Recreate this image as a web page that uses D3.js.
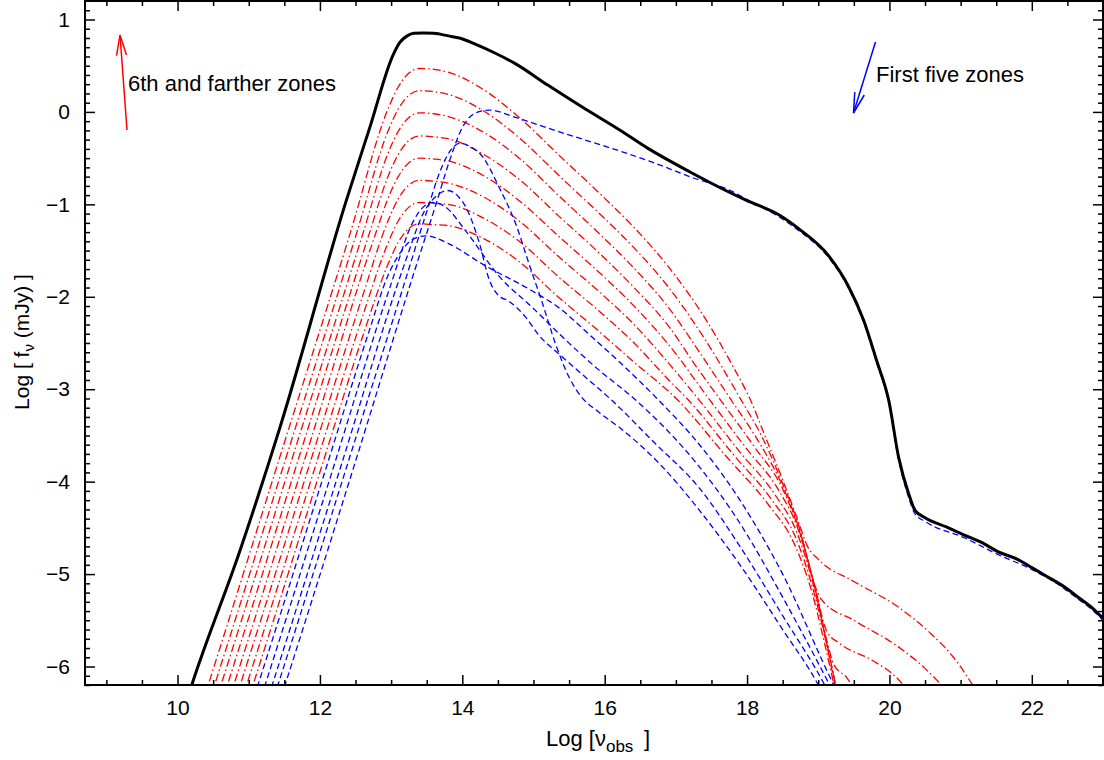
<!DOCTYPE html>
<html>
<head>
<meta charset="utf-8">
<script src="https://cdn.jsdelivr.net/npm/d3@7"></script>
<style>
  body { margin: 0; background: #fff; }
  text { font-family: "Liberation Sans", Arial, sans-serif; }
</style>
</head>
<body>
<script>
// ---- data: [log nu, log f] ----
var total = [[10.15,-6.32],[10.2,-6.2],[10.88,-4.74],[11.44,-3.41],[12.37,-0.96],[12.7,-0.17],[13.03,0.62],
  [13.12,0.75],[13.22,0.82],[13.32,0.85],[13.45,0.855],[13.6,0.85],[13.82,0.82],[13.96,0.8],[14.19,0.73],
  [14.45,0.64],[14.75,0.52],[15.2,0.29],[15.69,0.05],[16.2,-0.19],[16.62,-0.4],[17.2,-0.65],[17.7,-0.85],
  [18.0,-0.96],[18.44,-1.11],[18.72,-1.26],[19.15,-1.56],[19.42,-1.88],[19.64,-2.26],[19.82,-2.69],
  [19.99,-3.12],[20.13,-3.74],[20.27,-4.13],[20.36,-4.31],[20.5,-4.39],[20.8,-4.49],[21.06,-4.58],
  [21.3,-4.66],[21.53,-4.76],[21.8,-4.84],[22.0,-4.93],[22.2,-5.02],[22.46,-5.14],[22.65,-5.25],
  [22.84,-5.36],[23.0,-5.48]]

var blue1 = [[11.46,-6.32],[11.51,-6.2],[12.5,-3.78],[13.35,-1.67],[13.63,-1.0],[13.82,-0.53],[14.0,-0.17],
  [14.19,-0.01],[14.38,0.02],[14.75,-0.06],[15.3,-0.2],[16.2,-0.42],[16.62,-0.53],[17.23,-0.71],
  [17.79,-0.86],[17.98,-0.94],[18.44,-1.13],[18.72,-1.28],[19.15,-1.58],[19.42,-1.9],[19.64,-2.28],
  [19.82,-2.71],[19.99,-3.14],[20.13,-3.77],[20.27,-4.17],[20.36,-4.35],[20.5,-4.43],[21.06,-4.61],
  [21.53,-4.79],[22.0,-4.95],[22.46,-5.16],[22.65,-5.27],[22.84,-5.38],[23.0,-5.5]]
var blue2 = [[11.36,-6.32],[11.41,-6.2],[12.4,-3.78],[13.2,-1.82],[13.5,-1.08],[13.7,-0.62],[13.85,-0.4],
  [13.96,-0.34],[14.1,-0.37],[14.29,-0.49],[14.52,-0.82],[14.75,-1.21],[14.94,-1.65],[15.13,-2.08],
  [15.31,-2.51],[15.5,-2.87],[15.64,-3.05],[15.92,-3.25],[16.2,-3.41],[16.8,-3.83],[17.32,-4.3],
  [17.9,-4.9],[18.5,-5.6],[19.0,-6.2],[19.08,-6.32]]
var blue3 = [[11.28,-6.32],[11.33,-6.2],[12.3,-3.82],[13.2,-1.62],[13.45,-1.1],[13.65,-0.9],[13.8,-0.85],
  [13.95,-0.92],[14.05,-1.03],[14.24,-1.42],[14.38,-1.82],[14.5,-1.98],[14.66,-2.05],[14.89,-2.22],
  [15.08,-2.42],[15.36,-2.62],[15.7,-2.85],[16.1,-3.12],[16.7,-3.58],[17.32,-4.06],[17.9,-4.7],
  [18.5,-5.45],[19.09,-6.2],[19.17,-6.32]]
var blue4 = [[11.18,-6.32],[11.23,-6.2],[12.2,-3.82],[13.0,-1.86],[13.3,-1.2],[13.45,-1.03],[13.59,-0.98],
  [13.75,-1.02],[14.05,-1.29],[14.52,-1.78],[14.99,-2.12],[15.36,-2.4],[15.9,-2.78],[16.44,-3.12],
  [17.32,-3.83],[17.9,-4.45],[18.5,-5.25],[19.16,-6.2],[19.24,-6.32]]
var blue5 = [[11.08,-6.32],[11.13,-6.2],[12.1,-3.82],[12.7,-2.35],[12.95,-1.78],[13.15,-1.5],[13.3,-1.38],
  [13.49,-1.34],[13.82,-1.43],[14.29,-1.65],[14.99,-1.94],[15.36,-2.12],[15.8,-2.42],[16.2,-2.7],
  [16.76,-3.12],[17.32,-3.59],[17.9,-4.2],[18.5,-5.0],[19.22,-6.2],[19.3,-6.32]]

var red0 = [[10.38,-6.32],[10.43,-6.2],[11.43,-3.75],[12.43,-1.3],[12.95,0.02],[13.1,0.27],[13.25,0.42],
  [13.4,0.47],[13.6,0.46],[13.8,0.43],[14.3,0.24],[14.8,-0.06],[15.36,-0.47],[15.9,-0.86],[16.4,-1.24],
  [16.9,-1.68],[17.4,-2.22],[17.8,-2.75],[18.05,-3.12],[18.26,-3.52],[18.5,-3.98],[18.72,-4.43],
  [18.85,-4.7],[19.0,-4.84],[19.5,-5.08],[20.13,-5.36],[20.59,-5.65],[20.9,-5.9],[21.25,-6.3]]
var red1 = [[10.47,-6.32],[10.52,-6.2],[11.52,-3.75],[12.52,-1.3],[12.95,-0.22],[13.1,0.03],[13.25,0.18],
  [13.4,0.23],[13.6,0.22],[13.8,0.19],[14.3,0.01],[14.8,-0.28],[15.36,-0.69],[15.9,-1.08],[16.4,-1.46],
  [16.9,-1.9],[17.4,-2.45],[17.92,-3.12],[18.2,-3.5],[18.5,-4.02],[18.72,-4.46],[18.96,-5.14],
  [19.05,-5.28],[19.5,-5.5],[20.13,-5.79],[20.5,-6.02],[20.85,-6.3]]
var red2 = [[10.56,-6.32],[10.61,-6.2],[11.61,-3.75],[12.61,-1.3],[12.95,-0.46],[13.1,-0.21],[13.25,-0.06],
  [13.4,-0.01],[13.6,-0.02],[13.8,-0.05],[14.3,-0.22],[14.8,-0.5],[15.36,-0.91],[15.9,-1.3],[16.4,-1.68],
  [16.9,-2.12],[17.35,-2.62],[17.78,-3.12],[18.15,-3.55],[18.5,-4.05],[18.72,-4.48],[18.96,-5.16],
  [19.12,-5.62],[19.3,-5.75],[19.75,-5.93],[20.1,-6.12],[20.3,-6.3]]
var red3 = [[10.65,-6.32],[10.7,-6.2],[11.7,-3.75],[12.7,-1.3],[12.95,-0.71],[13.1,-0.46],[13.25,-0.31],
  [13.4,-0.26],[13.6,-0.27],[13.8,-0.29],[14.3,-0.46],[14.8,-0.73],[15.36,-1.13],[15.9,-1.51],[16.4,-1.89],
  [16.9,-2.32],[17.3,-2.77],[17.63,-3.12],[18.1,-3.62],[18.5,-4.08],[18.72,-4.5],[18.96,-5.17],
  [19.12,-5.72],[19.22,-5.98],[19.4,-6.12],[19.55,-6.3]]
var red4 = [[10.74,-6.32],[10.79,-6.2],[11.79,-3.75],[12.79,-1.3],[12.95,-0.95],[13.1,-0.7],[13.25,-0.55],
  [13.4,-0.5],[13.6,-0.51],[13.8,-0.53],[14.3,-0.69],[14.8,-0.96],[15.36,-1.35],[15.9,-1.72],[16.4,-2.09],
  [16.9,-2.52],[17.48,-3.12],[18.0,-3.65],[18.45,-4.1],[18.72,-4.52],[18.96,-5.18],[19.1,-5.67],[19.27,-6.3]]
var red5 = [[10.83,-6.32],[10.88,-6.2],[11.88,-3.75],[12.6,-1.99],[12.95,-1.19],[13.1,-0.94],[13.25,-0.79],
  [13.4,-0.74],[13.6,-0.75],[13.8,-0.77],[14.3,-0.92],[14.8,-1.18],[15.36,-1.57],[15.9,-1.93],[16.4,-2.29],
  [16.9,-2.72],[17.33,-3.12],[17.9,-3.68],[18.4,-4.15],[18.7,-4.55],[18.96,-5.2],[19.1,-5.68],[19.27,-6.3]]
var red6 = [[10.92,-6.32],[10.97,-6.2],[11.97,-3.75],[12.6,-2.21],[12.95,-1.43],[13.1,-1.18],[13.25,-1.03],
  [13.4,-0.98],[13.6,-0.99],[13.8,-1.0],[14.3,-1.15],[14.8,-1.4],[15.36,-1.79],[15.9,-2.14],[16.4,-2.49],
  [16.9,-2.9],[17.18,-3.12],[17.8,-3.7],[18.35,-4.2],[18.68,-4.6],[18.94,-5.2],[19.1,-5.7],[19.26,-6.3]]
var red7 = [[11.01,-6.32],[11.06,-6.2],[12.06,-3.75],[12.6,-2.43],[12.95,-1.66],[13.1,-1.41],[13.25,-1.26],
  [13.4,-1.21],[13.6,-1.22],[13.8,-1.23],[14.3,-1.37],[14.8,-1.62],[15.36,-2.01],[15.9,-2.36],[16.4,-2.7],
  [17.03,-3.12],[17.7,-3.72],[18.3,-4.25],[18.65,-4.65],[18.92,-5.22],[19.08,-5.72],[19.25,-6.3]]

var redZones = [red0, red1, red2, red3, red4, red5, red6, red7]
var blueZones = [blue1, blue2, blue3, blue4, blue5]

var xMajor = [10, 12, 14, 16, 18, 20, 22]
var yMajor = [-6, -5, -4, -3, -2, -1, 0, 1]

// ---- layout (plot box in px) ----
var W = 1104, H = 760
var pL = 85, pR = 1103, pT = 1, pB = 685

var svg = d3.select('body').append('svg')
    .attr('width', W)
    .attr('height', H)

svg.append('rect').attr('width', W).attr('height', H).attr('fill', '#fff')

var x = d3.scaleLinear().domain([8.7, 23]).range([pL, pR])
var y = d3.scaleLinear().domain([-6.2, 1.2]).range([pB, pT])

svg.append('clipPath').attr('id', 'plot')
  .append('rect')
    .attr('x', pL).attr('y', pT)
    .attr('width', pR - pL).attr('height', pB - pT)

var line = d3.line()
    .x(d => x(d[0]))
    .y(d => y(d[1]))
    .curve(d3.curveMonotoneX)

var curves = svg.append('g').attr('clip-path', 'url(#plot)')

redZones.forEach(function (z) {
  curves.append('path')
    .attr('d', line(z))
    .attr('fill', 'none')
    .attr('stroke', '#ff0000')
    .attr('stroke-width', 1.3)
    .attr('stroke-dasharray', '8,3,1.5,3')
})

blueZones.forEach(function (z) {
  curves.append('path')
    .attr('d', line(z))
    .attr('fill', 'none')
    .attr('stroke', '#0000ff')
    .attr('stroke-width', 1.3)
    .attr('stroke-dasharray', '6,3.5')
})

curves.append('path')
    .attr('d', line(total))
    .attr('fill', 'none')
    .attr('stroke', '#000')
    .attr('stroke-width', 3)
    .attr('stroke-linejoin', 'round')

// ---- axes (ticks point inward on all four sides) ----
var xMinor = d3.range(9, 23.01, 0.5).filter(v => xMajor.indexOf(v) < 0)
var yMinor = d3.range(-62, 12, 1).map(v => v / 10).filter(v => v % 1 !== 0)

function styleAxis(g) {
  g.select('.domain').remove()
  g.selectAll('line').attr('stroke', '#000').attr('stroke-width', 1.5)
  g.selectAll('text').attr('font-size', 21).attr('fill', '#000')
    .attr('font-family', '"Liberation Sans", Arial, sans-serif')
}

svg.append('g').attr('transform', 'translate(0,' + pB + ')')
  .call(d3.axisBottom(x).tickValues(xMajor).tickSize(-10).tickSizeOuter(0).tickPadding(15)).call(styleAxis)
svg.append('g').attr('transform', 'translate(0,' + pB + ')')
  .call(d3.axisBottom(x).tickValues(xMinor).tickSize(-5).tickSizeOuter(0).tickFormat('')).call(styleAxis)
svg.append('g').attr('transform', 'translate(0,' + pT + ')')
  .call(d3.axisTop(x).tickValues(xMajor).tickSize(-10).tickSizeOuter(0).tickFormat('')).call(styleAxis)
svg.append('g').attr('transform', 'translate(0,' + pT + ')')
  .call(d3.axisTop(x).tickValues(xMinor).tickSize(-5).tickSizeOuter(0).tickFormat('')).call(styleAxis)

svg.append('g').attr('transform', 'translate(' + pL + ',0)')
  .call(d3.axisLeft(y).tickValues(yMajor).tickSize(-10).tickSizeOuter(0).tickPadding(15)).call(styleAxis)
svg.append('g').attr('transform', 'translate(' + pL + ',0)')
  .call(d3.axisLeft(y).tickValues(yMinor).tickSize(-5).tickSizeOuter(0).tickFormat('')).call(styleAxis)
svg.append('g').attr('transform', 'translate(' + pR + ',0)')
  .call(d3.axisRight(y).tickValues(yMajor).tickSize(-10).tickSizeOuter(0).tickFormat('')).call(styleAxis)
svg.append('g').attr('transform', 'translate(' + pR + ',0)')
  .call(d3.axisRight(y).tickValues(yMinor).tickSize(-5).tickSizeOuter(0).tickFormat('')).call(styleAxis)

// frame
svg.append('rect')
    .attr('x', pL).attr('y', pT)
    .attr('width', pR - pL).attr('height', pB - pT)
    .attr('fill', 'none')
    .attr('stroke', '#000')
    .attr('stroke-width', 2)

// ---- axis titles ----
var xTitle = svg.append('text')
    .attr('x', 598).attr('y', 746)
    .attr('text-anchor', 'middle')
    .attr('font-size', 22)
xTitle.append('tspan').text('Log [\u03bd')
xTitle.append('tspan').attr('font-size', 17).attr('dy', 6).text('obs')
xTitle.append('tspan').attr('dy', -6).text('\u2009 ]')

var yTitle = svg.append('text')
    .attr('transform', 'translate(29,342) rotate(-90)')
    .attr('text-anchor', 'middle')
    .attr('font-size', 21)
yTitle.append('tspan').text('Log [ f')
yTitle.append('tspan').attr('font-size', 15).attr('dy', 5).text('\u03bd')
yTitle.append('tspan').attr('dy', -5).text(' (mJy) ]')

// ---- annotations ----
function arrow(x1, y1, x2, y2, color) {
  var a = Math.atan2(y2 - y1, x2 - x1), len = 21, spread = 0.24
  svg.append('line')
    .attr('x1', x1).attr('y1', y1).attr('x2', x2).attr('y2', y2)
    .attr('stroke', color).attr('stroke-width', 1.5)
  svg.append('path')
    .attr('d', 'M' + (x2 - len * Math.cos(a - spread)) + ',' + (y2 - len * Math.sin(a - spread)) +
      'L' + x2 + ',' + y2 +
      'L' + (x2 - len * Math.cos(a + spread)) + ',' + (y2 - len * Math.sin(a + spread)))
    .attr('fill', 'none').attr('stroke', color).attr('stroke-width', 1.5)
}

arrow(127, 130, 120, 35, '#ff0000')
svg.append('text').attr('x', 128).attr('y', 91).attr('font-size', 22).text('6th and farther zones')

arrow(875.5, 42, 853.5, 113, '#0000ff')
svg.append('text').attr('x', 876).attr('y', 82).attr('font-size', 22).text('First five zones')
</script>
</body>
</html>
